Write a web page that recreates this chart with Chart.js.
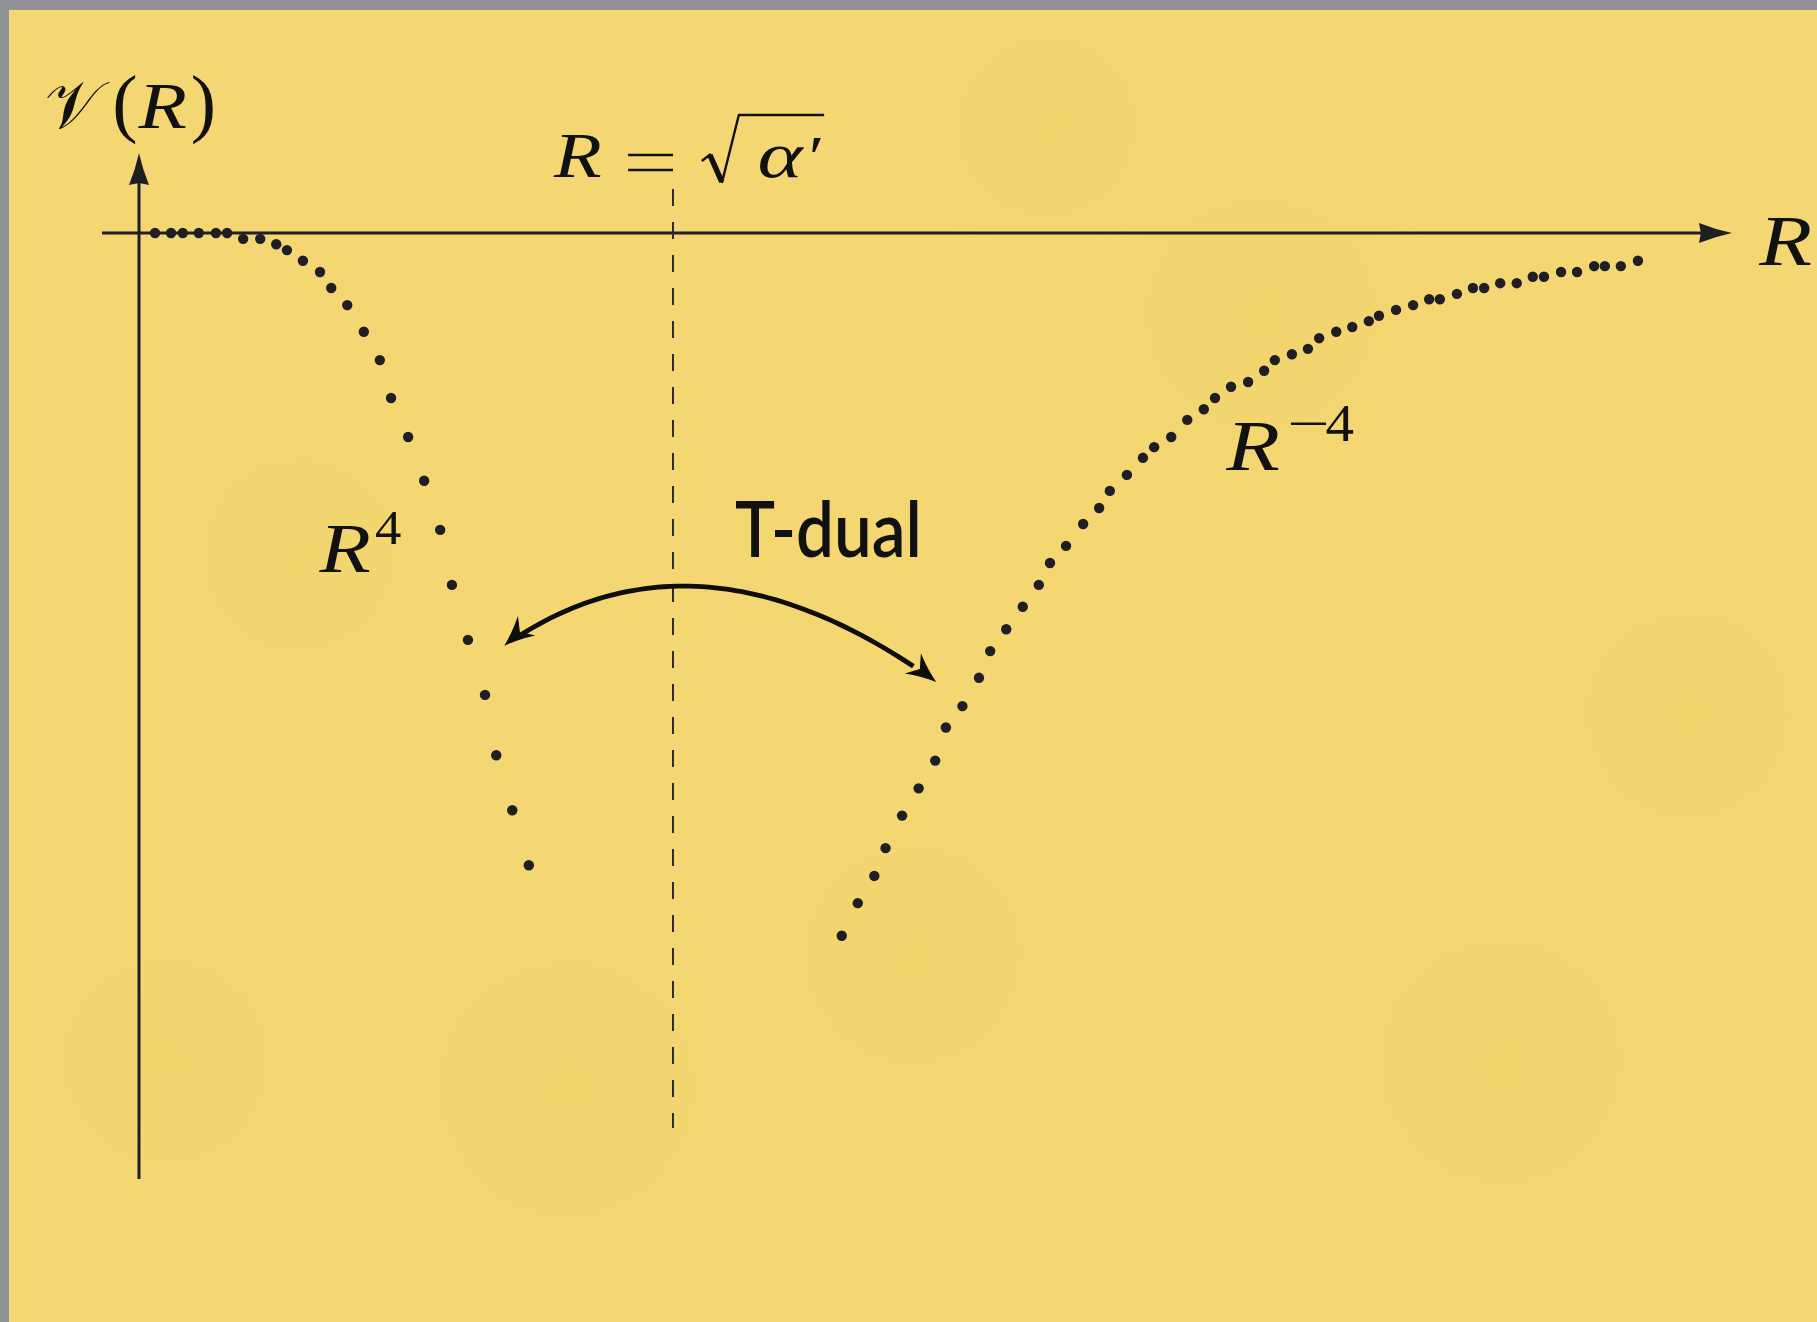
<!DOCTYPE html>
<html>
<head>
<meta charset="utf-8">
<title>T-duality potential</title>
<script src="https://cdn.jsdelivr.net/npm/chart.js@4.4.1/dist/chart.umd.min.js"></script>
<style>
  html, body { margin: 0; padding: 0; background: #919198; overflow: hidden; }
  canvas { display: block; }
</style>
</head>
<body>
<canvas id="potential" width="1817" height="1322"></canvas>
<script>
// R measured in units of sqrt(alpha'), V in the same length units (schematic)
const smallR = [0.030, 0.060, 0.082, 0.112, 0.144, 0.165, 0.195, 0.227, 0.257, 0.277, 0.307, 0.339, 0.360,
                0.390, 0.421, 0.451, 0.472, 0.504, 0.534, 0.564, 0.586, 0.616, 0.648, 0.669, 0.699, 0.730];
const smallV = [0, 0, 0, 0, 0, 0, -0.011, -0.011, -0.021, -0.032, -0.052, -0.073, -0.103,
                -0.135, -0.185, -0.238, -0.309, -0.382, -0.464, -0.556, -0.659, -0.762, -0.865, -0.978, -1.081, -1.184];

const largeR = [1.316, 1.346, 1.377, 1.398, 1.429, 1.460, 1.491, 1.511, 1.542, 1.573, 1.594, 1.624, 1.655, 1.685,
                1.706, 1.736, 1.768, 1.798, 1.818, 1.850, 1.880, 1.901, 1.933, 1.963, 1.994, 2.015, 2.045, 2.077,
                2.107, 2.127, 2.159, 2.189, 2.210, 2.242, 2.272, 2.303, 2.322, 2.354, 2.386, 2.416, 2.436, 2.468,
                2.498, 2.519, 2.549, 2.580, 2.610, 2.631, 2.663, 2.693, 2.725, 2.745, 2.775, 2.807];
const largeV = [-1.316, -1.255, -1.204, -1.152, -1.091, -1.040, -0.988, -0.926, -0.886, -0.833, -0.783, -0.742, -0.700, -0.659,
                -0.618, -0.586, -0.545, -0.515, -0.483, -0.453, -0.421, -0.401, -0.382, -0.350, -0.330, -0.309, -0.288, -0.279,
                -0.258, -0.238, -0.227, -0.217, -0.197, -0.185, -0.176, -0.165, -0.155, -0.144, -0.135, -0.124, -0.124, -0.114,
                -0.103, -0.103, -0.094, -0.094, -0.082, -0.082, -0.073, -0.073, -0.062, -0.062, -0.062, -0.052];

const selfDual = 1;          // R = sqrt(alpha')

const ink = '#1f1f23';
const serif = '"Liberation Serif", "Times New Roman", serif';

// faint darker patches in the paper
const blots = [[0.05, -1.55, 160], [0.80, -1.60, 200], [1.45, -1.35, 170], [2.10, -0.15, 180],
               [2.55, -1.55, 190], [0.30, -0.60, 150], [1.70, 0.20, 140], [2.90, -0.90, 160]];

function pts(xs, ys) {
    return xs.map((v, i) => ({ x: v, y: ys[i] }));
}

function arrowHead(ctx, x, y, ang, len, half, inset) {
    ctx.save();
    ctx.translate(x, y);
    ctx.rotate(ang);
    ctx.beginPath();
    ctx.moveTo(0, 0);
    ctx.quadraticCurveTo(-len * 0.5, -half * 0.35, -len, -half);
    ctx.lineTo(-len + inset, 0);
    ctx.lineTo(-len, half);
    ctx.quadraticCurveTo(-len * 0.5, half * 0.35, 0, 0);
    ctx.closePath();
    ctx.fill();
    ctx.restore();
}

function bez(p, t) {
    const u = 1 - t;
    return [
        u*u*u*p[0][0] + 3*u*u*t*p[1][0] + 3*u*t*t*p[2][0] + t*t*t*p[3][0],
        u*u*u*p[0][1] + 3*u*u*t*p[1][1] + 3*u*t*t*p[2][1] + t*t*t*p[3][1]
    ];
}

// math-style text: a bit wider than Liberation's own italic
function mathText(ctx, text, px, py, font, sx) {
    ctx.save();
    ctx.font = font;
    ctx.translate(px, py);
    ctx.scale(sx, 1);
    ctx.fillText(text, 0, 0);
    ctx.restore();
}

const paper = {
    id: 'paper',
    beforeDraw(chart) {
        const { ctx, width, height, scales: { x, y } } = chart;
        ctx.save();
        ctx.fillStyle = '#919198';
        ctx.fillRect(0, 0, width, height);
        ctx.beginPath();
        ctx.rect(9, 10, width - 9, height - 10);
        ctx.clip();
        ctx.fillStyle = '#f4d772';
        ctx.fillRect(9, 10, width - 9, height - 10);
        blots.forEach(b => {
            const cx = x.getPixelForValue(b[0]), cy = y.getPixelForValue(b[1]);
            const g = ctx.createRadialGradient(cx, cy, 0, cx, cy, b[2]);
            g.addColorStop(0, 'rgba(225, 190, 70, 0.11)');
            g.addColorStop(1, 'rgba(225, 190, 70, 0)');
            ctx.fillStyle = g;
            ctx.fillRect(cx - b[2], cy - b[2], b[2] * 2, b[2] * 2);
        });
        ctx.restore();
    }
};

const axes = {
    id: 'axes',
    beforeDatasetsDraw(chart) {
        const { ctx, scales: { x, y } } = chart;
        const x0 = x.getPixelForValue(0);
        const y0 = y.getPixelForValue(0);
        ctx.save();
        ctx.strokeStyle = ink;
        ctx.fillStyle = ink;
        ctx.lineWidth = 3;

        // V axis
        const vTop = y.getPixelForValue(0.150);
        ctx.beginPath();
        ctx.moveTo(x0, y.getPixelForValue(-1.7715));
        ctx.lineTo(x0, vTop + 25);
        ctx.stroke();
        arrowHead(ctx, x0, vTop, -Math.PI / 2, 32, 10, 2);

        // R axis
        const rEnd = x.getPixelForValue(2.983);
        ctx.beginPath();
        ctx.moveTo(x.getPixelForValue(-0.0693), y0);
        ctx.lineTo(rEnd - 25, y0);
        ctx.stroke();
        arrowHead(ctx, rEnd, y0, 0, 33, 10, 2);

        // self-dual radius
        const xs = x.getPixelForValue(selfDual);
        ctx.strokeStyle = '#2c2c30';
        ctx.lineWidth = 2;
        ctx.setLineDash([17, 16]);
        ctx.beginPath();
        ctx.moveTo(xs, y.getPixelForValue(0.0824));
        ctx.lineTo(xs, y.getPixelForValue(-1.676));
        ctx.stroke();
        ctx.restore();
    }
};

const notes = {
    id: 'notes',
    afterDatasetsDraw(chart) {
        const { ctx, scales: { x, y } } = chart;
        const X = v => x.getPixelForValue(v);
        const Y = v => y.getPixelForValue(v);
        const it = s => 'italic ' + s + 'px ' + serif;
        const up = s => s + 'px ' + serif;
        ctx.save();
        ctx.fillStyle = '#111';
        ctx.strokeStyle = '#111';
        ctx.textBaseline = 'alphabetic';
        ctx.textAlign = 'left';

        // V(R)
        mathText(ctx, '\u{1D4B1}', X(-0.176), Y(0.197), '67px "DejaVu Serif", ' + serif, 1.0);
        mathText(ctx, '(', X(-0.050), Y(0.197), up(76), 1.0);
        mathText(ctx, ')', X(0.097), Y(0.197), up(76), 1.0);
        mathText(ctx, 'R', X(-0.001), Y(0.197), it(66), 1.2);

        // R axis name
        mathText(ctx, 'R', X(3.034), Y(-0.060), it(72), 1.2);

        // R = sqrt(alpha')
        mathText(ctx, 'R', X(0.777), Y(0.105), it(64), 1.22);
        ctx.lineWidth = 2.6;
        ctx.beginPath();
        ctx.moveTo(X(0.916), Y(0.146)); ctx.lineTo(X(1.0), Y(0.146));
        ctx.moveTo(X(0.916), Y(0.118)); ctx.lineTo(X(1.0), Y(0.118));
        ctx.stroke();
        mathText(ctx, '\u03B1', X(1.158), Y(0.105), it(66), 1.3);
        mathText(ctx, '\u2032', X(1.246), Y(0.105), it(60), 1.2);
        const rx = X(1.054), top = Y(0.221);
        ctx.lineJoin = 'round';
        ctx.lineWidth = 2.5;
        ctx.beginPath();
        ctx.moveTo(rx, top + 46);
        ctx.lineTo(rx + 9, top + 39);
        ctx.stroke();
        ctx.lineWidth = 5.5;
        ctx.beginPath();
        ctx.moveTo(rx + 8, top + 40);
        ctx.lineTo(rx + 20, top + 67);
        ctx.stroke();
        ctx.lineWidth = 2.4;
        ctx.beginPath();
        ctx.moveTo(rx + 20, top + 68);
        ctx.lineTo(rx + 37, top);
        ctx.lineTo(X(1.283), top);
        ctx.stroke();

        // R^4 and R^-4
        mathText(ctx, 'R', X(0.338), Y(-0.635), it(70), 1.2);
        mathText(ctx, '4', X(0.442), Y(-0.582), up(48), 1.1);
        mathText(ctx, 'R', X(2.036), Y(-0.444), it(72), 1.22);
        mathText(ctx, '\u2212', X(2.150), Y(-0.390), up(52), 1.45);
        mathText(ctx, '4', X(2.222), Y(-0.390), up(52), 1.1);

        // T-dual
        ctx.font = '600 76px Lato, "Open Sans", sans-serif';
        const w = ctx.measureText('T-dual').width;
        const tx = X(1.116), ty = Y(-0.607);
        ctx.save();
        ctx.translate(tx, ty);
        ctx.scale(187 / w, 1);
        ctx.fillText('T-dual', 0, 0);
        ctx.restore();

        // the exchange arrow between the two branches
        const cp = [[0.684, -0.773], [0.908, -0.616], [1.174, -0.612], [1.493, -0.841]]
            .map(p => [X(p[0]), Y(p[1])]);
        ctx.strokeStyle = '#0d0d0d';
        ctx.fillStyle = '#0d0d0d';
        ctx.lineWidth = 4.8;
        ctx.beginPath();
        const t0 = 0.05, t1 = 0.955;
        let p = bez(cp, t0);
        ctx.moveTo(p[0], p[1]);
        for (let i = 1; i <= 60; i++) {
            p = bez(cp, t0 + (t1 - t0) * i / 60);
            ctx.lineTo(p[0], p[1]);
        }
        ctx.stroke();
        const a0 = Math.atan2(cp[0][1] - cp[1][1], cp[0][0] - cp[1][0]) - 0.12;
        const a1 = Math.atan2(cp[3][1] - cp[2][1], cp[3][0] - cp[2][0]) + 0.05;
        arrowHead(ctx, cp[0][0], cp[0][1], a0, 30, 13, 9);
        arrowHead(ctx, cp[3][0], cp[3][1], a1, 30, 13, 9);
        ctx.restore();
    }
};

const chart = new Chart(document.getElementById('potential').getContext('2d'), {
    type: 'scatter',
    data: {
        datasets: [{
            label: 'R^4',
            data: pts(smallR, smallV),
            backgroundColor: ink,
            borderWidth: 0,
            pointRadius: 5.2
        }, {
            label: 'R^-4',
            data: pts(largeR, largeV),
            backgroundColor: ink,
            borderWidth: 0,
            pointRadius: 5.2
        }]
    },
    options: {
        responsive: false,
        animation: false,
        devicePixelRatio: 1,
        layout: { padding: 0, autoPadding: false },
        plugins: {
            legend: { display: false },
            tooltip: { enabled: false }
        },
        scales: {
            x: { type: 'linear', min: -0.2603, max: 3.1423, display: false },
            y: { type: 'linear', min: -2.0393, max: 0.4363, display: false }
        }
    },
    plugins: [paper, axes, notes]
});
</script>
</body>
</html>
